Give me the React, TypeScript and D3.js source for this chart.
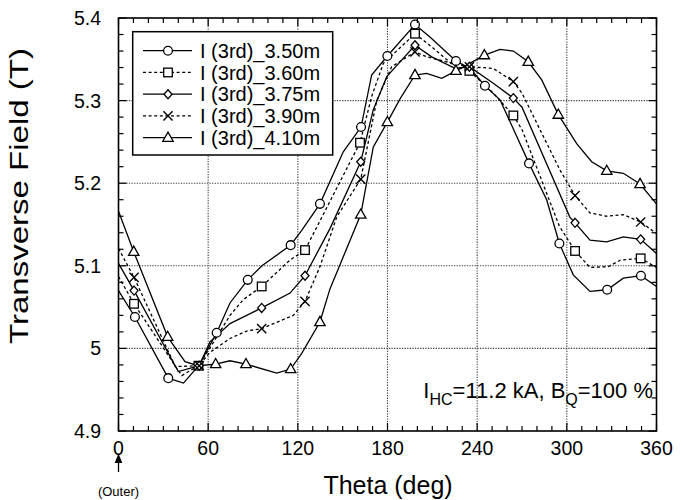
import React from 'react';
import * as d3 from 'd3';

// ---- axis ticks ----
const thetaTicks = [0, 60, 120, 180, 240, 300, 360];
const fieldTicks = [4.9, 5.0, 5.1, 5.2, 5.3, 5.4];
const fieldTickLabels = ['4.9', '5', '5.1', '5.2', '5.3', '5.4'];

// ---- series names ----
const seriesNames = ['I (3rd)_3.50m', 'I (3rd)_3.60m', 'I (3rd)_3.75m', 'I (3rd)_3.90m', 'I (3rd)_4.10m'];

// ---- 3.50 m ----
const theta350 = [0, 11, 33.3, 43.5, 54, 65.7, 74.6, 86.5, 96, 115.2, 122.6, 134.8, 150.4, 162.3, 169.4, 179.9, 198.4, 208.4, 225.8, 235.2, 245.2, 255.3, 274.7, 286.5, 295, 304.3, 315.5, 327, 337.8, 349.6, 360];
const field350 = [5.070, 5.038, 4.964, 4.958, 4.980, 5.019, 5.055, 5.083, 5.100, 5.125, 5.143, 5.175, 5.238, 5.268, 5.331, 5.354, 5.392, 5.377, 5.348, 5.339, 5.318, 5.301, 5.224, 5.180, 5.127, 5.089, 5.069, 5.071, 5.085, 5.088, 5.075];
const marks350 = [11, 33.3, 65.7, 86.5, 115.2, 134.8, 162.3, 179.9, 198.4, 225.8, 245.2, 274.7, 295, 327, 349.6];

// ---- 3.60 m ----
const theta360 = [0, 10.4, 42.3, 53.5, 61, 74.6, 83.5, 95.8, 114.8, 124.8, 141.5, 161.6, 169.4, 177.2, 198.4, 209.6, 224, 234.8, 250.8, 264.2, 270, 295, 305.5, 315.5, 327.8, 336, 349.4, 360];
const field360 = [5.087, 5.054, 4.967, 4.979, 5.000, 5.040, 5.059, 5.075, 5.107, 5.119, 5.178, 5.249, 5.305, 5.345, 5.381, 5.365, 5.343, 5.336, 5.309, 5.282, 5.265, 5.148, 5.118, 5.098, 5.099, 5.107, 5.109, 5.098];
const marks360 = [10.4, 53.5, 95.8, 124.8, 161.6, 198.4, 234.8, 264.2, 305.5, 349.4];

// ---- 3.75 m ----
const theta375 = [0, 10.4, 40, 54, 61.2, 74.6, 95.8, 114.8, 124.8, 141.5, 162.1, 170.5, 179.5, 198.4, 209.6, 225.2, 234.8, 250.8, 264.2, 270, 302, 305.5, 315.5, 326.7, 337.8, 349.4, 360];
const field375 = [5.103, 5.070, 4.972, 4.979, 5.008, 5.030, 5.049, 5.067, 5.088, 5.145, 5.226, 5.289, 5.329, 5.367, 5.353, 5.339, 5.341, 5.321, 5.303, 5.292, 5.159, 5.152, 5.131, 5.129, 5.135, 5.132, 5.115];
const marks375 = [10.4, 54, 95.8, 124.8, 162.1, 198.4, 234.8, 264.2, 305.5, 349.4];

// ---- 3.90 m ----
const theta390 = [0, 10.4, 38, 54, 61, 74.6, 85.8, 95.8, 117, 124.8, 134.8, 146, 162.1, 172.8, 182.8, 198.4, 206.2, 224, 234.8, 250.8, 264.2, 270, 295.4, 305.5, 315.5, 326.7, 337.8, 349.4, 360];
const field390 = [5.121, 5.086, 4.978, 4.979, 4.995, 5.012, 5.021, 5.024, 5.040, 5.057, 5.099, 5.159, 5.205, 5.300, 5.341, 5.359, 5.353, 5.345, 5.341, 5.339, 5.323, 5.309, 5.216, 5.185, 5.164, 5.160, 5.162, 5.153, 5.139];
const marks390 = [10.4, 54, 95.8, 124.8, 162.1, 198.4, 234.8, 264.2, 305.5, 349.4];

// ---- 4.10 m ----
const theta410 = [0, 10.2, 32.9, 44.5, 53.5, 65, 74.6, 85.3, 105.9, 115.2, 122.6, 134.8, 141.5, 162.1, 170.5, 179.9, 188.4, 198.4, 206.2, 216.3, 225.8, 233, 244.8, 255.3, 264.2, 274.2, 283.2, 294.3, 306.6, 316.6, 326.7, 337.8, 349, 360];
const field410 = [5.166, 5.117, 5.014, 4.984, 4.979, 4.981, 4.985, 4.981, 4.970, 4.975, 4.994, 5.032, 5.072, 5.162, 5.244, 5.274, 5.302, 5.331, 5.333, 5.327, 5.336, 5.343, 5.355, 5.362, 5.360, 5.347, 5.325, 5.283, 5.248, 5.226, 5.215, 5.212, 5.199, 5.175];
const marks410 = [10.2, 32.9, 65, 85.3, 115.2, 134.8, 162.1, 179.9, 198.4, 225.8, 244.8, 274.2, 294.3, 326.7, 349];

const FONT = '"Liberation Sans", Arial, Helvetica, sans-serif';

type Shape = 'circle' | 'square' | 'diamond' | 'cross' | 'triangle';

const series: { name: string; theta: number[]; field: number[]; marks: number[]; dashed: boolean; shape: Shape }[] = [
  { name: seriesNames[0], theta: theta350, field: field350, marks: marks350, dashed: false, shape: 'circle' },
  { name: seriesNames[1], theta: theta360, field: field360, marks: marks360, dashed: true, shape: 'square' },
  { name: seriesNames[2], theta: theta375, field: field375, marks: marks375, dashed: false, shape: 'diamond' },
  { name: seriesNames[3], theta: theta390, field: field390, marks: marks390, dashed: true, shape: 'cross' },
  { name: seriesNames[4], theta: theta410, field: field410, marks: marks410, dashed: false, shape: 'triangle' },
];

function Marker({ shape, cx, cy }: { shape: Shape; cx: number; cy: number }) {
  const common = { fill: 'white', stroke: 'black', strokeWidth: 1.3 };
  if (shape === 'circle') return <circle cx={cx} cy={cy} r={4.4} {...common} />;
  if (shape === 'square') return <rect x={cx - 4.3} y={cy - 4.3} width={8.6} height={8.6} {...common} />;
  if (shape === 'diamond')
    return <path d={`M${cx},${cy - 4.5}L${cx + 4},${cy}L${cx},${cy + 4.5}L${cx - 4},${cy}Z`} {...common} />;
  if (shape === 'cross')
    return (
      <path d={`M${cx - 4.6},${cy - 4.6}L${cx + 4.6},${cy + 4.6}M${cx - 4.6},${cy + 4.6}L${cx + 4.6},${cy - 4.6}`} fill="none" stroke="black" strokeWidth={1.4} />
    );
  return <path d={`M${cx},${cy - 5.6}L${cx + 5.2},${cy + 3.6}L${cx - 5.2},${cy + 3.6}Z`} {...common} />;
}

export default function App() {
  const W = 682, H = 500;
  const x = d3.scaleLinear().domain([0, 360]).range([118.5, 656.5]);
  const y = d3.scaleLinear().domain([4.9, 5.4]).range([431, 18]);
  const line = d3.line<[number, number]>().x(d => x(d[0])).y(d => y(d[1]));

  const minorX = d3.range(0, 361, 10);
  const minorY = d3.range(4.9, 5.4001, 0.02);
  const x0 = x(0), x1 = x(360), yTop = y(5.4), yBot = y(4.9);

  const legX = 132.7, legY = 31.7, legW = 200, legH = 123.3;

  return (
    <svg width={W} height={H} style={{ position: 'absolute', left: 0, top: 0, background: 'white' }} fontFamily={FONT}>
      <rect width={W} height={H} fill="white" />
      {/* grid */}
      {thetaTicks.slice(1, -1).map(t => (
        <line key={'gx' + t} x1={x(t)} x2={x(t)} y1={yTop} y2={yBot} stroke="#444" strokeWidth={1.1} strokeDasharray="1.3,1.3" />
      ))}
      {fieldTicks.slice(1, -1).map(v => (
        <line key={'gy' + v} x1={x0} x2={x1} y1={y(v)} y2={y(v)} stroke="#444" strokeWidth={1.1} strokeDasharray="1.3,1.3" />
      ))}
      {/* series */}
      {series.map(s => (
        <path key={'l' + s.name} d={line(s.theta.map((t, i) => [t, s.field[i]] as [number, number])) || ''} fill="none" stroke="black" strokeWidth={1.3} strokeDasharray={s.dashed ? '3,2.6' : undefined} />
      ))}
      {series.map(s =>
        s.marks.map(t => {
          const i = s.theta.indexOf(t);
          return <Marker key={'m' + s.name + t} shape={s.shape} cx={x(t)} cy={y(s.field[i])} />;
        })
      )}
      {/* legend */}
      <rect x={legX} y={legY} width={legW} height={legH} fill="white" stroke="black" strokeWidth={1.5} />
      {series.map((s, i) => {
        const cy = 50.7 + i * 21.75;
        return (
          <g key={'lg' + s.name}>
            <line x1={143} x2={192} y1={cy} y2={cy} stroke="black" strokeWidth={1.3} strokeDasharray={s.dashed ? '3,2.6' : undefined} />
            <Marker shape={s.shape} cx={168} cy={cy} />
            <text x={200} y={cy} dy="0.36em" fontSize={20}>{s.name}</text>
          </g>
        );
      })}
      {/* frame */}
      <rect x={x0} y={yTop} width={x1 - x0} height={yBot - yTop} fill="none" stroke="black" strokeWidth={1.6} />
      {/* ticks */}
      {minorX.map(t => {
        const len = t % 60 === 0 ? 8 : 5;
        return (
          <g key={'tx' + t}>
            <line x1={x(t)} x2={x(t)} y1={yBot} y2={yBot - len} stroke="black" strokeWidth={1.2} />
            <line x1={x(t)} x2={x(t)} y1={yTop} y2={yTop + len} stroke="black" strokeWidth={1.2} />
          </g>
        );
      })}
      {minorY.map((v, k) => {
        const len = k % 5 === 0 ? 8 : 5;
        return (
          <g key={'ty' + k}>
            <line x1={x0} x2={x0 + len} y1={y(v)} y2={y(v)} stroke="black" strokeWidth={1.2} />
            <line x1={x1} x2={x1 - len} y1={y(v)} y2={y(v)} stroke="black" strokeWidth={1.2} />
          </g>
        );
      })}
      {/* tick labels */}
      {thetaTicks.map(t => (
        <text key={'xl' + t} x={x(t)} y={455} textAnchor="middle" fontSize={19.5}>{t}</text>
      ))}
      {fieldTicks.map((v, i) => (
        <text key={'yl' + v} x={101} y={y(v)} dy="0.36em" textAnchor="end" fontSize={19.5}>{fieldTickLabels[i]}</text>
      ))}
      {/* axis titles */}
      <text x={388} y={494} textAnchor="middle" fontSize={25}>Theta (deg)</text>
      <text transform={`translate(28,196) rotate(-90)`} textAnchor="middle" fontSize={26} textLength={296} lengthAdjust="spacingAndGlyphs">Transverse Field (T)</text>
      {/* outer arrow */}
      <line x1={x0} x2={x0} y1={472} y2={461} stroke="black" strokeWidth={1.3} />
      <path d={`M${x0},${453.5}L${x0 + 3.8},${463}L${x0 - 3.8},${463}Z`} fill="black" />
      <text x={x0} y={496} textAnchor="middle" fontSize={13}>(Outer)</text>
      {/* annotation */}
      <text x={653} y={398} textAnchor="end" fontSize={22}>
        I<tspan fontSize={16} dy={7}>HC</tspan><tspan dy={-7}>=11.2 kA, B</tspan><tspan fontSize={16} dy={7}>Q</tspan><tspan dy={-7}>=100 %</tspan>
      </text>
    </svg>
  );
}
